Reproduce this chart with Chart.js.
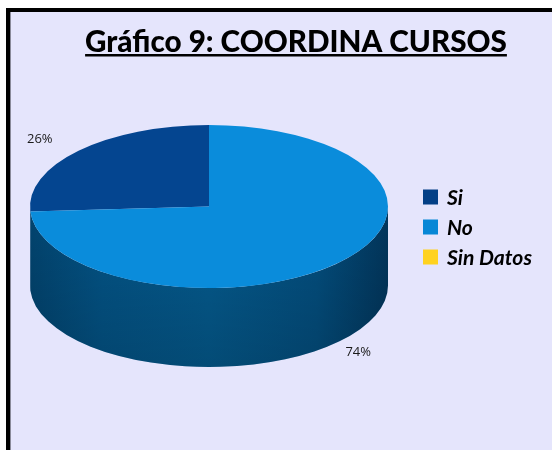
<!DOCTYPE html>
<html>
<head>
<meta charset="utf-8">
<script src="https://cdn.jsdelivr.net/npm/chart.js@4"></script>
<style>
  html, body { margin: 0; padding: 0; background: #ffffff; }
  #wrap { position: relative; width: 552px; height: 450px; }
  canvas { display: block; }
</style>
</head>
<body>
<div id="wrap"><canvas id="c" width="552" height="450"></canvas></div>
<script>
const titleText = "Gráfico 9: COORDINA CURSOS";
const categories = ["Si", "No", "Sin Datos"];
const values = [26, 74, 0];
const percentLabels = ["26%", "74%", ""];
const topColors = ["#044590", "#0A8CDB", "#FFD21F"];
const legendColors = ["#033F86", "#0787D6", "#FFD21F"];

const TILT = 81.5 / 179;   // vertical squash of the pie
const DEPTH = 79;          // thickness of the 3D side

const pie3d = {
  id: 'pie3d',
  beforeDraw(chart) {
    const ctx = chart.ctx;
    ctx.save();
    ctx.fillStyle = '#ffffff';
    ctx.fillRect(0, 0, chart.width, chart.height);
    ctx.fillStyle = '#E5E5FC';
    ctx.fillRect(6, 8, chart.width - 6, chart.height - 8);
    ctx.fillStyle = '#000000';
    ctx.fillRect(6, 8, chart.width - 6, 4);
    ctx.fillRect(6, 8, 4, chart.height - 8);
    ctx.fillStyle = '#8a8a9a';
    ctx.fillRect(10, 12, 1, chart.height - 12);
    ctx.restore();
  },
  beforeDatasetsDraw(chart) {
    const ctx = chart.ctx;
    const meta = chart.getDatasetMeta(0);
    const arcs = meta.data;
    if (!arcs.length) return;
    const cx = arcs[0].x, cy = arcs[0].y, rx = arcs[0].outerRadius, ry = rx * TILT;
    arcs.forEach((arc, i) => {
      if (values[i] <= 0) return;
      const s = arc.startAngle, e = arc.endAngle;
      const segs = [];
      const full = Math.PI * 2;
      for (let k = -2; k <= 2; k++) {
        const lo = Math.max(s, k * full), hi = Math.min(e, k * full + Math.PI);
        if (hi > lo) segs.push([lo, hi]);
      }
      segs.forEach(([a0, a1]) => {
        const g = ctx.createLinearGradient(cx - rx, 0, cx + rx, 0);
        if (i === 0) {
          g.addColorStop(0, '#033865'); g.addColorStop(0.5, '#033f78'); g.addColorStop(1, '#033865');
        } else {
          g.addColorStop(0, '#02446f'); g.addColorStop(0.2, '#035385');
          g.addColorStop(0.5, '#045a8d'); g.addColorStop(0.8, '#034e7e'); g.addColorStop(1, '#02365c');
        }
        ctx.save();
        ctx.beginPath();
        ctx.ellipse(cx, cy, rx, ry, 0, a0, a1, false);
        ctx.lineTo(cx + rx * Math.cos(a1), cy + ry * Math.sin(a1) + DEPTH);
        ctx.ellipse(cx, cy + DEPTH, rx, ry, 0, a1, a0, true);
        ctx.closePath();
        ctx.fillStyle = g;
        ctx.fill();
        const v = ctx.createLinearGradient(0, cy, 0, cy + ry + DEPTH);
        v.addColorStop(0, 'rgba(0,0,0,0)');
        v.addColorStop(1, 'rgba(0,0,0,0.16)');
        ctx.fillStyle = v;
        ctx.fill();
        ctx.restore();
      });
    });
    ctx.save();
    ctx.translate(cx, cy);
    ctx.scale(1, TILT);
    ctx.translate(-cx, -cy);
  },
  afterDatasetsDraw(chart) {
    const ctx = chart.ctx;
    ctx.restore();
    const arcs = chart.getDatasetMeta(0).data;
    const cx = arcs[0].x, cy = arcs[0].y, rx = arcs[0].outerRadius, ry = rx * TILT;
    ctx.save();
    ctx.font = '13px "Open Sans", "Liberation Sans", sans-serif';
    ctx.fillStyle = '#1a1a1a';
    ctx.textAlign = 'center';
    ctx.textBaseline = 'middle';
    arcs.forEach((arc, i) => {
      if (values[i] <= 0) return;
      const m = (arc.startAngle + arc.endAngle) / 2;
      const c = Math.cos(m), s = Math.sin(m);
      const x = cx + rx * 1.22 * c - 10;
      const y = cy + ry * 1.2 * s + (s > 0 ? DEPTH : 0);
      ctx.fillText(percentLabels[i], x, y);
    });
    ctx.restore();
  },
  afterDraw(chart) {
    const ctx = chart.ctx;
    ctx.save();
    let size = 30;
    const fam = 'Lato, "Open Sans", "Liberation Sans", sans-serif';
    ctx.font = `900 ${size}px ${fam}`;
    const w0 = ctx.measureText(titleText).width;
    size = size * 422 / w0;
    ctx.font = `900 ${size}px ${fam}`;
    const tw = ctx.measureText(titleText).width;
    const tx = 296 - tw / 2;
    ctx.fillStyle = '#000000';
    ctx.textAlign = 'left';
    ctx.textBaseline = 'alphabetic';
    ctx.fillText(titleText, tx, 52);
    ctx.fillRect(tx, 54, tw, 2.5);
    let ls = 17;
    const lfam = 'Lato, "Open Sans", "Liberation Sans", sans-serif';
    ctx.font = `italic bold ${ls}px ${lfam}`;
    const lw = ctx.measureText(categories[2]).width;
    ls = ls * 85 / lw;
    ctx.font = `italic bold ${ls}px ${lfam}`;
    ctx.textBaseline = 'middle';
    categories.forEach((lab, i) => {
      const yc = 197 + i * 30;
      ctx.fillStyle = legendColors[i];
      ctx.fillRect(423, yc - 7.5, 15, 15);
      ctx.fillStyle = '#000000';
      ctx.fillText(lab, 447, yc + 1);
    });
    ctx.restore();
  }
};

const rotation = -values[0] / values.reduce((a, b) => a + b, 0) * 360;

new Chart(document.getElementById('c'), {
  type: 'pie',
  data: {
    labels: categories,
    datasets: [{
      data: values,
      backgroundColor: topColors,
      borderWidth: 0
    }]
  },
  options: {
    responsive: false,
    animation: false,
    rotation: rotation,
    layout: { padding: { left: 30, right: 164, top: 27.5, bottom: 64.5 } },
    plugins: {
      legend: { display: false },
      title: { display: false },
      tooltip: { enabled: false }
    }
  },
  plugins: [pie3d]
});
</script>
</body>
</html>
